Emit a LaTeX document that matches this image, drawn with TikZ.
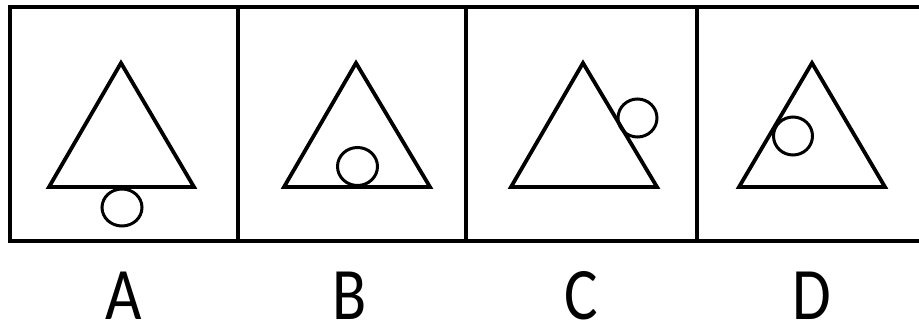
\documentclass[tikz,border=0pt]{standalone}
\usepackage{fontspec}
\setmainfont{Carlito}
\begin{document}
\begin{tikzpicture}[x=1pt,y=-1pt,
  frame/.style={line width=3.8pt},
  tri/.style={line width=3.8pt,line join=miter},
  ring/.style={line width=3pt},
  lab/.style={anchor=south,font=\fontsize{74}{78}\selectfont,inner sep=0pt,xscale=0.85}]
\useasboundingbox (0,0) rectangle (919,329);
\begin{scope}
\clip (0,0) rectangle (919,329);
\draw[frame] (940,7) -- (10,7) -- (10,241) -- (940,241);
\draw[frame] (238,7) -- (238,241);
\draw[frame] (466,7) -- (466,241);
\draw[frame] (697,7) -- (697,241);
\end{scope}
% A
\draw[tri] (121,63) -- (194,187) -- (49,187) -- cycle;
\draw[ring] (122,207.5) ellipse[x radius=20,y radius=18.5];
% B
\draw[tri] (356,63) -- (430,187) -- (284,187) -- cycle;
\draw[ring] (357.5,166.5) ellipse[x radius=20,y radius=19];
% C
\draw[tri] (583,63) -- (657,187) -- (511,187) -- cycle;
\draw[ring] (637.5,118) ellipse[x radius=19.5,y radius=19];
% D
\draw[tri] (812,63) -- (885,187) -- (739,187) -- cycle;
\draw[ring] (793,136) ellipse[x radius=19.5,y radius=19];
\node[lab] (la) at (123.5,320) {A};
\node[lab] (lb) at (350,320) {B};
\node[lab] (lc) at (581,320) {C};
\node[lab] (ld) at (812,320) {D};
\end{tikzpicture}
\end{document}
